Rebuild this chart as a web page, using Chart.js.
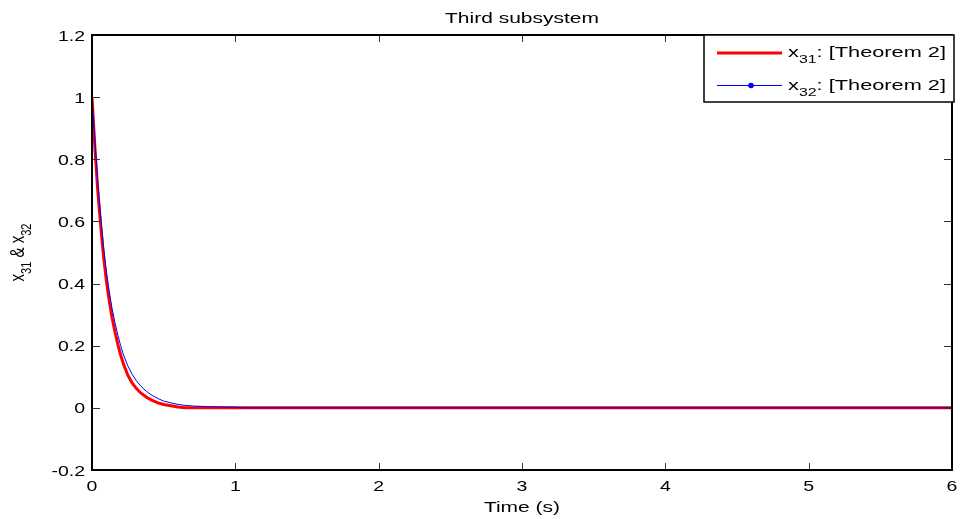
<!DOCTYPE html>
<html>
<head>
<meta charset="utf-8">
<script src="https://cdn.jsdelivr.net/npm/chart.js@4/dist/chart.umd.min.js"></script>
<style>
  html, body { margin: 0; padding: 0; background: #fff; }
  #wrap { width: 960px; height: 519px; }
</style>
</head>
<body>
<div id="wrap"><canvas id="plot" width="960" height="519"></canvas></div>
<script>
// time samples (s)
var T = [0, 0.02, 0.04, 0.06, 0.08, 0.10, 0.12, 0.14, 0.16, 0.18, 0.20, 0.22, 0.25, 0.28, 0.31, 0.34, 0.38, 0.42, 0.46, 0.50, 0.55, 0.60, 0.65, 0.70, 0.80, 0.90, 1.0, 1.05, 2, 3, 4, 5, 6];
// x31: [Theorem 2]
var X31 = [1.0, 0.84, 0.70, 0.59, 0.49, 0.41, 0.345, 0.29, 0.245, 0.205, 0.17, 0.14, 0.105, 0.08, 0.062, 0.048, 0.034, 0.024, 0.016, 0.011, 0.007, 0.003, 0, 0, 0, 0, 0, 0, 0, 0, 0, 0, 0];
// x32: [Theorem 2]
var X32 = [1.0, 0.86, 0.73, 0.62, 0.52, 0.44, 0.375, 0.32, 0.275, 0.235, 0.2, 0.17, 0.135, 0.108, 0.087, 0.07, 0.053, 0.04, 0.03, 0.022, 0.016, 0.011, 0.008, 0.006, 0.004, 0.003, 0.002, 0, 0, 0, 0, 0, 0];

var TITLE = 'Third subsystem';
var XLABEL = 'Time (s)';

var SX = 1.35; // the figure's text is stretched sideways
var FONT = '"Liberation Sans", Arial, sans-serif';

function pts(ys) {
  return T.map(function(t, i) { return { x: t, y: ys[i] }; });
}

// draw a run of text pieces, some of them subscripts
function rich(ctx, parts, x, y, align, sx) {
  sx = sx || SX;
  var w = 0;
  parts.forEach(function(p) {
    ctx.font = (p.sub ? 11 : 15) + 'px ' + FONT;
    p.w = ctx.measureText(p.t).width * sx;
    w += p.w;
  });
  if (align === 'center') x -= w / 2;
  else if (align === 'right') x -= w;
  parts.forEach(function(p) {
    ctx.font = (p.sub ? 11 : 15) + 'px ' + FONT;
    ctx.save();
    ctx.translate(x, y + (p.sub ? 6 : 0));
    ctx.scale(sx, 1);
    ctx.textAlign = 'left';
    ctx.textBaseline = 'alphabetic';
    ctx.fillText(p.t, 0, 0);
    ctx.restore();
    x += p.w;
  });
}

var matlabFrame = {
  id: 'matlabFrame',
  afterDraw: function(chart) {
    var ctx = chart.ctx, a = chart.chartArea;
    var xs = chart.scales.x, ys = chart.scales.y;
    ctx.save();
    ctx.fillStyle = '#000';

    // inward ticks on all four sides
    ctx.strokeStyle = '#333';
    ctx.lineWidth = 1;
    ctx.beginPath();
    ys.ticks.forEach(function(t) {
      var py = Math.round(ys.getPixelForValue(t.value)) + 0.5;
      ctx.moveTo(a.left, py); ctx.lineTo(a.left + 8, py);
      ctx.moveTo(a.right, py); ctx.lineTo(a.right - 8, py);
    });
    xs.ticks.forEach(function(t) {
      var px = Math.round(xs.getPixelForValue(t.value)) + 0.5;
      ctx.moveTo(px, a.bottom); ctx.lineTo(px, a.bottom - 7);
      ctx.moveTo(px, a.top); ctx.lineTo(px, a.top + 7);
    });
    ctx.stroke();

    // box
    ctx.strokeStyle = '#000';
    ctx.lineWidth = 2;
    ctx.strokeRect(a.left, a.top, a.right - a.left, a.bottom - a.top);

    // tick labels
    ys.ticks.forEach(function(t) {
      var py = ys.getPixelForValue(t.value);
      rich(ctx, [{ t: String(Number(t.value.toFixed(1))) }], a.left - 7, py + 5.5, 'right', 1.3);
    });
    xs.ticks.forEach(function(t) {
      var px = xs.getPixelForValue(t.value);
      rich(ctx, [{ t: String(Number(t.value.toFixed(1))) }], px, 491, 'center', 1.3);
    });

    // title and x label
    var cx = (a.left + a.right) / 2;
    rich(ctx, [{ t: TITLE }], cx, 22.5, 'center', 1.4);
    rich(ctx, [{ t: XLABEL }], cx, 511.5, 'center', 1.4);

    // y label, rotated
    var yl = [{ t: 'x' }, { t: '31', sub: true }, { t: ' & x' }, { t: '32', sub: true }];
    var len = 0;
    yl.forEach(function(p) {
      ctx.font = (p.sub ? 11 : 15) + 'px ' + FONT;
      p.w = ctx.measureText(p.t).width;
      len += p.w;
    });
    ctx.save();
    ctx.translate(24, (a.top + a.bottom) / 2 + len / 2);
    ctx.rotate(-Math.PI / 2);
    ctx.scale(1, SX);
    var pos = 0;
    yl.forEach(function(p) {
      ctx.font = (p.sub ? 11 : 15) + 'px ' + FONT;
      ctx.textBaseline = 'alphabetic';
      ctx.fillText(p.t, pos, p.sub ? 5 : 0);
      pos += p.w;
    });
    ctx.restore();

    // legend box
    var lx = 704, ly = a.top, lw = a.right + 2 - lx, lh = 67;
    ctx.fillStyle = '#fff';
    ctx.fillRect(lx, ly, lw, lh);
    ctx.strokeStyle = '#000';
    ctx.lineWidth = 1.5;
    ctx.strokeRect(lx, ly, lw, lh);

    ctx.strokeStyle = '#ff0000';
    ctx.lineWidth = 3;
    ctx.beginPath(); ctx.moveTo(717, 53); ctx.lineTo(782, 53); ctx.stroke();
    ctx.strokeStyle = '#0000ff';
    ctx.lineWidth = 1;
    ctx.beginPath(); ctx.moveTo(717, 85.5); ctx.lineTo(782, 85.5); ctx.stroke();
    ctx.fillStyle = '#0000ff';
    ctx.beginPath(); ctx.arc(751, 85.5, 2.8, 0, Math.PI * 2); ctx.fill();

    ctx.fillStyle = '#000';
    rich(ctx, [{ t: 'x' }, { t: '31', sub: true }, { t: ': [Theorem 2]' }], 788, 57, 'left', 1.45);
    rich(ctx, [{ t: 'x' }, { t: '32', sub: true }, { t: ': [Theorem 2]' }], 788, 90, 'left', 1.45);

    ctx.restore();
  }
};

new Chart(document.getElementById('plot').getContext('2d'), {
  type: 'line',
  data: {
    datasets: [
      {
        label: 'x31: [Theorem 2]',
        data: pts(X31),
        borderColor: '#ff0000',
        borderWidth: 3,
        pointRadius: 0,
        fill: false,
        tension: 0,
        order: 2
      },
      {
        label: 'x32: [Theorem 2]',
        data: pts(X32),
        borderColor: '#0000ff',
        borderWidth: 1,
        pointRadius: 0,
        fill: false,
        tension: 0,
        order: 1
      }
    ]
  },
  options: {
    responsive: false,
    animation: false,
    events: [],
    layout: { padding: { top: 35, right: 8, left: 0, bottom: 0 } },
    plugins: { legend: { display: false }, title: { display: false }, tooltip: { enabled: false } },
    scales: {
      x: {
        type: 'linear', min: 0, max: 6,
        ticks: { stepSize: 1, display: false },
        grid: { display: false },
        border: { display: false },
        afterFit: function(s) { s.height = 49; }
      },
      y: {
        type: 'linear', min: -0.2, max: 1.2,
        ticks: { stepSize: 0.2, display: false },
        grid: { display: false },
        border: { display: false },
        afterFit: function(s) { s.width = 92; }
      }
    }
  },
  plugins: [matlabFrame]
});
</script>
</body>
</html>
